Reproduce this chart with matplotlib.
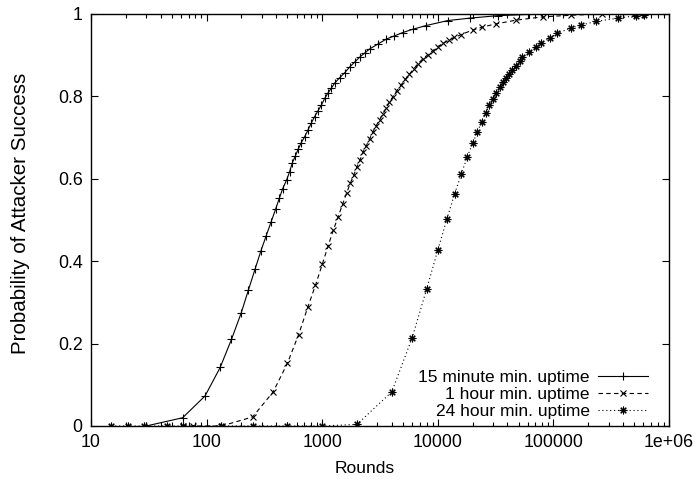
import matplotlib
matplotlib.use("Agg")
from matplotlib import pyplot as plt
from matplotlib.ticker import FixedLocator, FixedFormatter, LogLocator, NullFormatter

plt.rcParams['font.family'] = ['Liberation Sans', 'DejaVu Sans']

# 15 minute min. uptime
rounds_15m = [30, 62, 97, 131, 164, 199, 230, 262, 295, 327, 361, 395, 426, 455, 492,
              522, 552, 585, 620, 660, 705, 752, 804, 860, 919, 980, 1050, 1120, 1200,
              1280, 1413, 1561, 1723, 1905, 2104, 2324, 2566, 3029, 3577, 4220, 4980,
              6073, 7930, 12175, 19000, 33000, 61000, 120000, 220000, 400000]
prob_15m = [0, 0.02, 0.073, 0.142, 0.21, 0.274, 0.33, 0.38, 0.425, 0.461, 0.495, 0.526,
            0.553, 0.576, 0.597, 0.617, 0.639, 0.655, 0.672, 0.688, 0.702, 0.718, 0.735,
            0.751, 0.765, 0.778, 0.795, 0.808, 0.82, 0.832, 0.845, 0.857, 0.871, 0.883,
            0.895, 0.905, 0.915, 0.927, 0.939, 0.947, 0.955, 0.963, 0.972, 0.984, 0.990,
            0.996, 0.999, 1.0, 1.0, 1.0]

# 1 hour min. uptime
rounds_1h = [62, 77, 135, 250, 375, 500, 625, 750, 875, 1000, 1125, 1250, 1375, 1500,
             1625, 1750, 1875, 2000, 2125, 2250, 2404, 2567, 2743, 2931, 3131, 3345,
             3573, 3817, 4078, 4414, 4819, 5250, 5684, 6197, 6703, 7411, 8185, 9041,
             9986, 11170, 12590, 13900, 15900, 20000, 24100, 31800, 47400, 80500,
             141000, 263000, 500000]
prob_1h = [0, 0, 0, 0.022, 0.082, 0.152, 0.222, 0.288, 0.342, 0.392, 0.437, 0.476, 0.508,
           0.538, 0.565, 0.589, 0.609, 0.629, 0.646, 0.664, 0.680, 0.697, 0.713, 0.729,
           0.743, 0.757, 0.771, 0.786, 0.799, 0.814, 0.828, 0.842, 0.854, 0.867, 0.879,
           0.891, 0.901, 0.911, 0.921, 0.929, 0.937, 0.943, 0.950, 0.961, 0.968, 0.976,
           0.985, 0.993, 0.997, 1.0, 1.0]

# 24 hour min. uptime
rounds_24h = [15, 21, 29, 45, 62, 132, 250, 500, 1000, 2000, 4000, 6000, 8000, 10000,
              12000, 14000, 16000, 18000, 20000, 22000, 24000, 26000, 28000, 30000,
              32000, 34500, 36500, 39000, 41500, 44000, 47500, 51000, 54000, 62000,
              70500, 78000, 93000, 108000, 141000, 173000, 233000, 365000, 515000, 608000]
prob_24h = [0, 0, 0, 0, 0, 0, 0, 0, 0, 0.004, 0.083, 0.214, 0.332, 0.427, 0.503, 0.564,
            0.612, 0.654, 0.686, 0.714, 0.739, 0.760, 0.778, 0.793, 0.808, 0.824, 0.834,
            0.844, 0.854, 0.864, 0.874, 0.885, 0.895, 0.907, 0.919, 0.929, 0.942, 0.953,
            0.966, 0.973, 0.982, 0.990, 0.996, 0.997]

x_ticks = [10, 100, 1000, 10000, 100000, 1000000]
x_tick_labels = ['10', '100', '1000', '10000', '100000', '1e+06']
y_ticks = [0, 0.2, 0.4, 0.6, 0.8, 1.0]
y_tick_labels = ['0', '0.2', '0.4', '0.6', '0.8', '1']

fig = plt.figure(figsize=(6.96, 4.83), dpi=100)
ax = fig.add_axes([91 / 696, 1 - 426 / 483, 578 / 696, 412 / 483])

asterisk = (8, 2, 0)
ax.plot(rounds_15m, prob_15m, color='black', lw=0.8, ls='-', marker='+',
        ms=5.5, mew=0.8, label='15 minute min. uptime')
ax.plot(rounds_1h, prob_1h, color='black', lw=0.8, ls=(0, (4, 3)), marker='x',
        ms=4.5, mew=0.8, label='1 hour min. uptime')
ax.plot(rounds_24h, prob_24h, color='black', lw=0.8, ls=(0, (1, 2.5)), marker=asterisk,
        ms=5.5, mew=0.8, label='24 hour min. uptime')

ax.set_xscale('log')
ax.set_xlim(10, 1e6)
ax.set_ylim(0, 1)

ax.xaxis.set_major_locator(FixedLocator(x_ticks))
ax.xaxis.set_major_formatter(FixedFormatter(x_tick_labels))
ax.xaxis.set_minor_locator(LogLocator(base=10, subs=range(2, 10)))
ax.xaxis.set_minor_formatter(NullFormatter())
ax.yaxis.set_major_locator(FixedLocator(y_ticks))
ax.yaxis.set_major_formatter(FixedFormatter(y_tick_labels))

ax.tick_params(which='both', direction='in', top=True, right=True, labelsize=12.8,
               width=0.8, colors='black')
ax.tick_params(which='major', length=5, pad=6)
ax.tick_params(which='minor', length=2.8)
for s in ax.spines.values():
    s.set_linewidth(1.0)

ax.set_xlabel('Rounds', fontsize=12.5)
ax.xaxis.set_label_coords(0.474, -0.085)
ax.set_ylabel('Probability of Attacker Success', fontsize=14.8)
ax.yaxis.set_label_coords(-0.105, 0.517)

ax.legend(loc='lower right', bbox_to_anchor=(0.9637, 0.017), frameon=False,
          markerfirst=False, fontsize=12.5, handlelength=2.9, handletextpad=0.45,
          labelspacing=0.1, borderaxespad=0, borderpad=0)

fig.savefig('out.png', dpi=100)
